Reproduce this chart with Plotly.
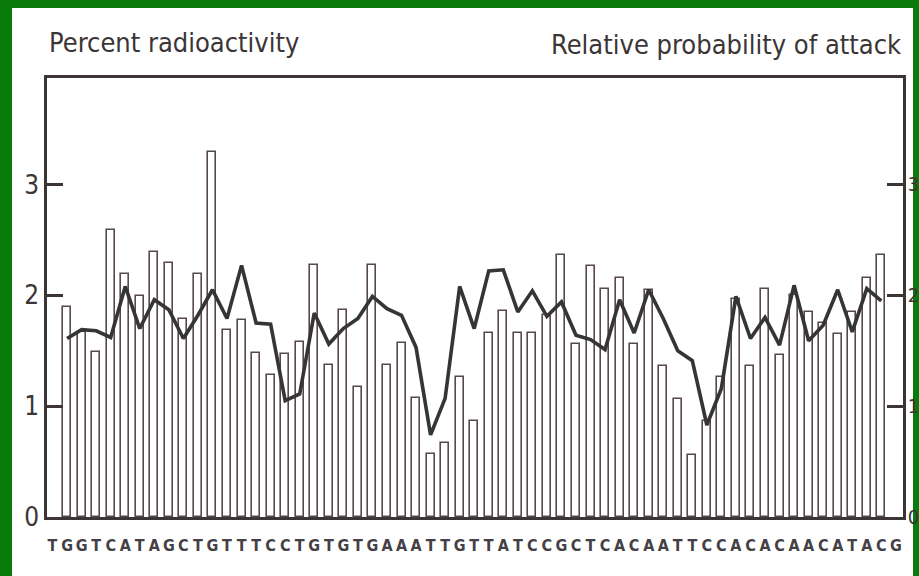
import plotly.graph_objects as go

sequence = list("TGGTCATAGCTGTTTCCTGTGTGAAATTGTTATCCGCTCACAATTCCACACAACATACG")
letter_pos = list(range(len(sequence)))

bar_pos = list(range(1, 58))
radioactivity = [1.89, 1.67, 1.49, 2.59, 2.19, 1.99, 2.39, 2.29, 1.79, 2.19,
                 3.29, 1.69, 1.78, 1.48, 1.28, 1.47, 1.58, 2.27, 1.37, 1.87,
                 1.17, 2.27, 1.37, 1.57, 1.07, 0.57, 0.67, 1.26, 0.87, 1.66,
                 1.86, 1.66, 1.66, 1.82, 2.36, 1.56, 2.26, 2.06, 2.16, 1.56,
                 2.05, 1.36, 1.06, 0.56, 0.87, 1.26, 1.97, 1.36, 2.06, 1.46,
                 2.00, 1.85, 1.75, 1.65, 1.85, 2.16, 2.36]
attack = [1.61, 1.69, 1.68, 1.62, 2.08, 1.70, 1.96, 1.87, 1.61, 1.82,
          2.05, 1.79, 2.27, 1.75, 1.74, 1.05, 1.11, 1.84, 1.56, 1.70,
          1.79, 1.99, 1.88, 1.82, 1.53, 0.74, 1.07, 2.08, 1.70, 2.22,
          2.23, 1.85, 2.04, 1.81, 1.94, 1.64, 1.60, 1.51, 1.96, 1.66,
          2.05, 1.79, 1.50, 1.41, 0.83, 1.16, 1.99, 1.61, 1.80, 1.55,
          2.09, 1.59, 1.73, 2.05, 1.67, 2.06, 1.95]
y_ticks = [0, 1, 2, 3]

NARROW = "DejaVu Sans Condensed, Liberation Sans, Arial, sans-serif"
INK = "#3b3536"
GREEN = "#0a7a0a"

fig = go.Figure()
fig.add_trace(go.Bar(x=bar_pos, y=radioactivity, width=0.55,
                     marker=dict(color="white", line=dict(color="#574850", width=1.6)),
                     showlegend=False))
fig.add_trace(go.Scatter(x=bar_pos, y=attack, mode="lines", yaxis="y2",
                         line=dict(color="#353535", width=3.6), showlegend=False))

W, H = 919, 576
L, R, T, B = 47, 16, 78, 59
pw, ph = W - L - R, H - T - B

def px(xp):
    return (xp - L) / pw

def py(yp):
    return (H - B - yp) / ph

fig.update_layout(
    width=W, height=H,
    margin=dict(l=L, r=R, t=T, b=B, autoexpand=False),
    paper_bgcolor="white", plot_bgcolor="white",
    bargap=0,
    xaxis=dict(range=[-0.38, 58.49], tickmode="array", tickvals=letter_pos, ticktext=sequence,
               ticks="", showgrid=False, zeroline=False, showline=True, mirror=True,
               linecolor=INK, linewidth=3, tickangle=0, automargin=False,
               tickfont=dict(family=NARROW, size=16, color="#454045", weight="bold"),
               ticklabelstandoff=12),
    yaxis=dict(range=[0, 3.96], tickmode="array", tickvals=y_ticks, ticks="inside", ticklen=16,
               tickwidth=2.5, tickcolor=INK, showgrid=False, zeroline=False, showline=True,
               linecolor=INK, linewidth=2.5, automargin=False,
               tickfont=dict(family=NARROW, size=26, color=INK)),
    yaxis2=dict(range=[0, 3.96], tickmode="array", tickvals=y_ticks, ticks="inside", ticklen=16,
                tickwidth=2.5, tickcolor=INK, showgrid=False, zeroline=False, showline=True,
                linecolor=INK, linewidth=2.5, overlaying="y", side="right", automargin=False,
                ticklabelstandoff=-2,
                tickfont=dict(family=NARROW, size=20, color=INK)),
    annotations=[
        dict(text="Percent radioactivity", xref="paper", yref="paper", x=0, y=py(42),
             xanchor="left", yanchor="middle", showarrow=False,
             font=dict(family=NARROW, size=27, color=INK)),
        dict(text="Relative probability of attack", xref="paper", yref="paper", x=1, y=py(44),
             xanchor="right", yanchor="middle", showarrow=False,
             font=dict(family=NARROW, size=27, color=INK)),
    ],
    shapes=[
        dict(type="rect", xref="paper", yref="paper", layer="above", line=dict(width=0),
             fillcolor=GREEN, x0=px(-5), x1=px(12), y0=py(-5), y1=py(H + 5)),
        dict(type="rect", xref="paper", yref="paper", layer="above", line=dict(width=0),
             fillcolor=GREEN, x0=px(-5), x1=px(W + 5), y0=py(8), y1=py(-5)),
        dict(type="rect", xref="paper", yref="paper", layer="below", line=dict(width=0),
             fillcolor=GREEN, x0=px(913), x1=px(W + 5), y0=py(-5), y1=py(H + 5)),
    ],
)

fig.write_html("out.html", config={"displayModeBar": False},
               post_script="document.body.style.margin='0';document.body.style.overflow='hidden';")
